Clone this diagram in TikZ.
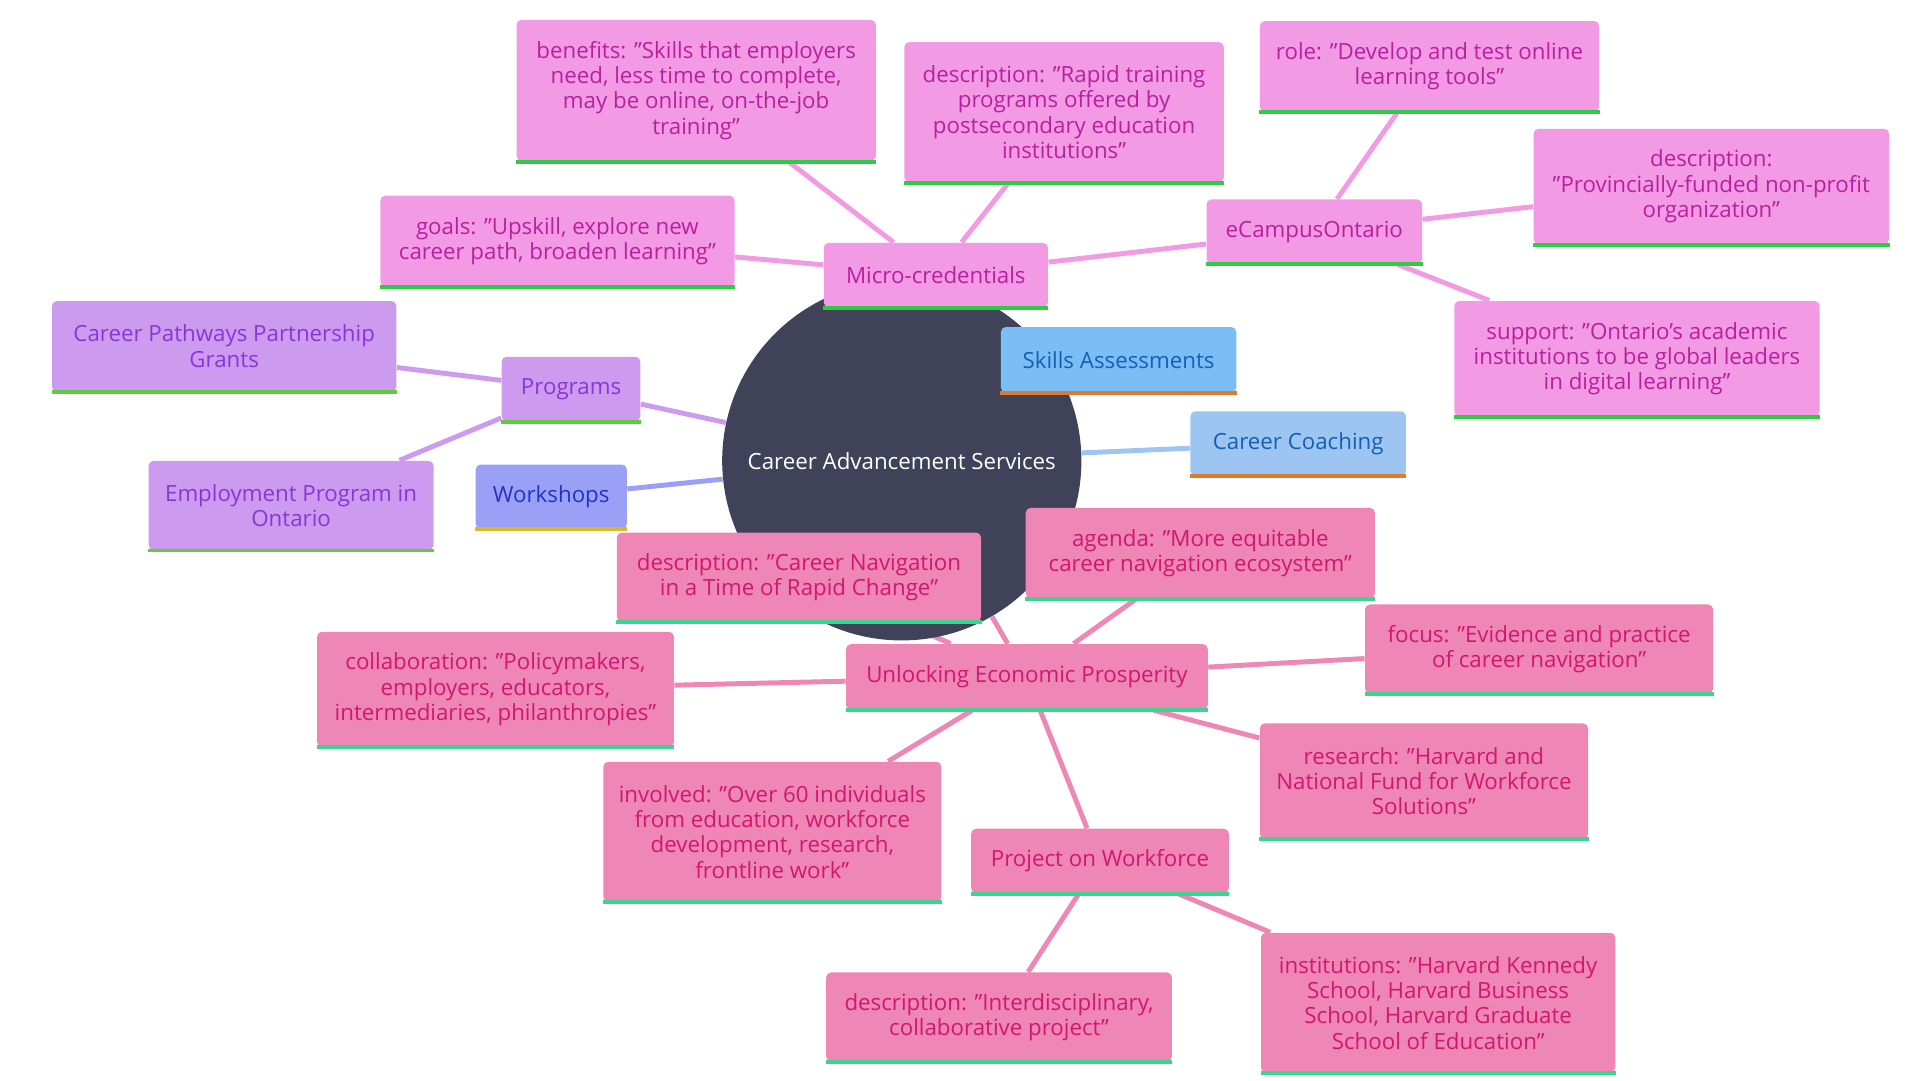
\documentclass[tikz,border=0pt]{standalone}
\usepackage{fontspec}
\setmainfont{Open Sans}
\pgfdeclarelayer{l1}\pgfdeclarelayer{l2}\pgfdeclarelayer{l3}
\pgfsetlayers{l1,l2,l3,main}
\definecolor{pkF}{HTML}{F29AE4}\definecolor{pkT}{HTML}{B820A0}\definecolor{pkB}{HTML}{2ECC40}
\definecolor{puF}{HTML}{CC9BF0}\definecolor{puT}{HTML}{8A35D6}\definecolor{puB}{HTML}{5BCF3A}
\definecolor{wsF}{HTML}{9AA0F5}\definecolor{wsT}{HTML}{2830C4}\definecolor{wsB}{HTML}{D6BA2C}
\definecolor{skF}{HTML}{7BBEF5}\definecolor{skT}{HTML}{1460B4}\definecolor{skB}{HTML}{E07A2A}
\definecolor{ccF}{HTML}{9CC5F2}
\definecolor{ulF}{HTML}{EE86B6}\definecolor{ulT}{HTML}{D0186E}\definecolor{ulB}{HTML}{3AD68E}
\definecolor{ctr}{HTML}{3F4259}
\tikzset{
 bx/.style n args={3}{fill=#1,text=#2,rounded corners=2pt,inner sep=0pt,align=center,
   font=\fontsize{9}{10.2}\selectfont,
   append after command={ (\tikzlastnode.south west) edge[draw=#3,line width=1.6pt,shorten >=0pt] (\tikzlastnode.south east)}},
 pk/.style={bx={pkF}{pkT}{pkB}},
 pu/.style={bx={puF}{puT}{puB}},
 ul/.style={bx={ulF}{ulT}{ulB}},
 e/.style={line width=2pt,draw=#1},
 s/.style 2 args={minimum width=#1pt,minimum height=#2pt},
}
\begin{document}
\begin{tikzpicture}[x=0.5pt,y=-0.5pt]
\useasboundingbox (0,0) rectangle (1550,872);
\node[circle,fill=ctr,minimum size=145pt,text=white,font=\fontsize{9}{10}\selectfont] (c) at (728,372) {Career Advancement Services};
\node[pk,s={145}{57}] (ben) at (562,73) {benefits: "Skills that employers\\need, less time to complete,\\may be online, on-the-job\\training"};
\node[pk,s={129}{56.5}] (mdesc) at (859,90.5) {description: "Rapid training\\programs offered by\\postsecondary education\\institutions"};
\node[pk,s={137}{36.5}] (role) at (1154,53.5) {role: "Develop and test online\\learning tools"};
\node[pk,s={143.5}{46.5}] (edesc) at (1381.5,150.5) {description:\\"Provincially-funded non-profit\\organization"};
\node[pk,s={87}{26}] (ec) at (1061,187) {eCampusOntario};
\node[pk,s={143}{36.5}] (goals) at (450,194.5) {goals: "Upskill, explore new\\career path, broaden learning"};
\node[pk,s={90.5}{26}] (micro) at (755.5,222) {Micro-credentials};
\node[pk,s={147.5}{46.5}] (sup) at (1321.5,289.5) {support: "Ontario's academic\\institutions to be global leaders\\in digital learning"};
\node[pu,s={139}{36.5}] (path) at (181,279.5) {Career Pathways Partnership\\Grants};
\node[pu,s={56}{26}] (prog) at (461,314) {Programs};
\node[bx={skF}{skT}{skB},s={95}{26.5}] (skill) at (903,290.5) {Skills Assessments};
\node[bx={ccF}{skT}{skB},s={87}{26}] (coach) at (1048,358) {Career Coaching};
\node[pu,s={115}{36}] (emp) at (235,408) {Employment Program in\\Ontario};
\node[bx={wsF}{wsT}{wsB},s={61}{26}] (ws) at (445,401) {Workshops};
\node[ul,s={147}{36}] (nav) at (645,466) {description: "Career Navigation\\in a Time of Rapid Change"};
\node[ul,s={141}{36.5}] (agenda) at (969,446.5) {agenda: "More equitable\\career navigation ecosystem"};
\node[ul,s={140.5}{36}] (focus) at (1242.5,524) {focus: "Evidence and practice\\of career navigation"};
\node[ul,s={144}{46.5}] (collab) at (400,556.5) {collaboration: "Policymakers,\\employers, educators,\\intermediaries, philanthropies"};
\node[ul,s={146}{26.5}] (ul) at (829,546.5) {Unlocking Economic Prosperity};
\node[ul,s={132.5}{46.5}] (res) at (1149.5,630.5) {research: "Harvard and\\National Fund for Workforce\\Solutions"};
\node[ul,s={136.5}{56.5}] (inv) at (623.5,671.5) {involved: "Over 60 individuals\\from education, workforce\\development, research,\\frontline work"};
\node[ul,s={104}{26}] (proj) at (888,695) {Project on Workforce};
\node[ul,s={139.5}{36}] (inter) at (806.5,821) {description: "Interdisciplinary,\\collaborative project"};
\node[ul,s={143}{56.5}] (inst) at (1161,809.5) {institutions: "Harvard Kennedy\\School, Harvard Business\\School, Harvard Graduate\\School of Education"};
\begin{pgfonlayer}{l1}
\draw[e=pkF] (c) -- (micro);
\draw[e=puF] (c) -- (prog);
\draw[e=wsF] (c) -- (ws);
\draw[e=ccF] (c) -- (coach);
\draw[e=skF] (c) -- (skill);
\draw[e=ulF] (c) -- (ul);
\end{pgfonlayer}
\begin{pgfonlayer}{l3}
\draw[e=pkF] (micro) -- (ben); \draw[e=pkF] (micro) -- (mdesc);
\draw[e=pkF] (micro) -- (goals); \draw[e=pkF] (micro) -- (ec);
\draw[e=pkF] (ec) -- (role); \draw[e=pkF] (ec) -- (edesc); \draw[e=pkF] (ec) -- (sup);
\draw[e=puF] (prog) -- (path); \draw[e=puF] (prog) -- (emp);
\draw[e=ulF] (ul) -- (nav); \draw[e=ulF] (ul) -- (agenda); \draw[e=ulF] (ul) -- (focus);
\draw[e=ulF] (ul) -- (collab); \draw[e=ulF] (ul) -- (res); \draw[e=ulF] (ul) -- (inv);
\draw[e=ulF] (ul) -- (proj);
\draw[e=ulF] (proj) -- (inter); \draw[e=ulF] (proj) -- (inst);
\end{pgfonlayer}
\end{tikzpicture}
\end{document}
